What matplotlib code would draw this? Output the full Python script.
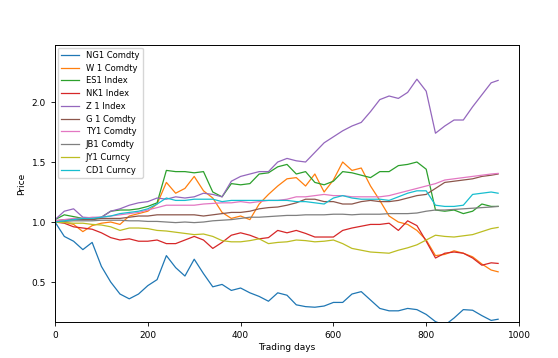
import numpy as np
import matplotlib
matplotlib.use("Agg")
import matplotlib.pyplot as plt

# sample days (every 20 trading days, last one is the final day)
days = list(range(0, 941, 20)) + [955]

ng1 = [1.0, 0.88, 0.84, 0.77, 0.83, 0.63, 0.50, 0.40, 0.36, 0.40,
       0.47, 0.52, 0.72, 0.62, 0.55, 0.69, 0.57, 0.46, 0.48, 0.43,
       0.45, 0.41, 0.38, 0.34, 0.41, 0.39, 0.31, 0.295, 0.29, 0.30,
       0.33, 0.33, 0.40, 0.42, 0.35, 0.28, 0.26, 0.26, 0.28, 0.27,
       0.23, 0.17, 0.14, 0.20, 0.27, 0.265, 0.22, 0.18, 0.19]
w1 = [1.0, 1.0, 0.98, 0.92, 0.97, 0.99, 1.0, 0.98, 1.05, 1.07,
      1.09, 1.15, 1.33, 1.24, 1.28, 1.38, 1.26, 1.20, 1.08, 1.03,
      1.05, 1.02, 1.15, 1.23, 1.30, 1.36, 1.37, 1.30, 1.40, 1.25,
      1.35, 1.50, 1.43, 1.45, 1.30, 1.18, 1.05, 1.00, 0.98, 0.93,
      0.85, 0.72, 0.73, 0.76, 0.74, 0.71, 0.65, 0.60, 0.585]
es1 = [1.02, 1.06, 1.045, 1.03, 1.02, 1.04, 1.09, 1.10, 1.10, 1.11,
       1.13, 1.16, 1.43, 1.42, 1.42, 1.41, 1.42, 1.25, 1.21, 1.32,
       1.31, 1.32, 1.40, 1.41, 1.46, 1.48, 1.40, 1.42, 1.33, 1.31,
       1.34, 1.42, 1.41, 1.39, 1.37, 1.42, 1.42, 1.47, 1.48, 1.50,
       1.44, 1.10, 1.09, 1.10, 1.07, 1.09, 1.15, 1.13, 1.13]
nk1 = [1.0, 0.99, 0.96, 0.95, 0.94, 0.91, 0.87, 0.85, 0.86, 0.84,
       0.84, 0.85, 0.82, 0.82, 0.85, 0.88, 0.85, 0.78, 0.83, 0.89,
       0.91, 0.89, 0.86, 0.87, 0.93, 0.91, 0.93, 0.905, 0.875, 0.875,
       0.875, 0.93, 0.95, 0.965, 0.98, 0.98, 0.99, 0.93, 1.01, 0.97,
       0.84, 0.70, 0.74, 0.75, 0.74, 0.70, 0.64, 0.66, 0.655]
z1 = [1.02, 1.09, 1.11, 1.04, 1.035, 1.04, 1.09, 1.11, 1.14, 1.16,
      1.17, 1.20, 1.19, 1.21, 1.20, 1.21, 1.24, 1.23, 1.21, 1.34,
      1.38, 1.40, 1.42, 1.42, 1.50, 1.53, 1.51, 1.50, 1.58, 1.66,
      1.71, 1.76, 1.80, 1.83, 1.92, 2.02, 2.05, 2.03, 2.08, 2.19,
      2.09, 1.74, 1.80, 1.85, 1.85, 1.96, 2.06, 2.16, 2.18]
g1 = [1.01, 1.02, 1.02, 1.02, 1.02, 1.03, 1.03, 1.03, 1.04, 1.05,
      1.05, 1.06, 1.06, 1.06, 1.06, 1.06, 1.05, 1.06, 1.07, 1.08,
      1.08, 1.09, 1.11, 1.12, 1.125, 1.14, 1.16, 1.19, 1.19, 1.17,
      1.17, 1.15, 1.15, 1.17, 1.18, 1.17, 1.17, 1.18, 1.20, 1.22,
      1.23, 1.28, 1.33, 1.34, 1.35, 1.36, 1.38, 1.39, 1.40]
ty1 = [1.01, 1.02, 1.03, 1.03, 1.04, 1.04, 1.05, 1.06, 1.07, 1.08,
       1.10, 1.12, 1.14, 1.14, 1.14, 1.14, 1.15, 1.155, 1.16, 1.16,
       1.17, 1.16, 1.17, 1.18, 1.18, 1.19, 1.21, 1.21, 1.22, 1.23,
       1.22, 1.22, 1.21, 1.21, 1.21, 1.21, 1.22, 1.24, 1.26, 1.28,
       1.30, 1.32, 1.35, 1.36, 1.37, 1.38, 1.39, 1.40, 1.405]
jb1 = [1.0, 1.005, 1.01, 1.01, 1.01, 1.015, 1.015, 1.015, 1.01, 1.01,
       1.005, 1.005, 1.0, 0.995, 1.0, 0.995, 1.0, 1.01, 1.015, 1.02,
       1.03, 1.04, 1.04, 1.045, 1.05, 1.055, 1.055, 1.06, 1.06, 1.06,
       1.065, 1.065, 1.06, 1.065, 1.065, 1.065, 1.07, 1.07, 1.07, 1.075,
       1.09, 1.10, 1.10, 1.105, 1.11, 1.115, 1.12, 1.125, 1.13]
jy1 = [1.0, 0.995, 0.99, 0.99, 0.98, 0.975, 0.96, 0.93, 0.95, 0.95,
       0.945, 0.93, 0.925, 0.915, 0.905, 0.895, 0.90, 0.88, 0.845, 0.835,
       0.835, 0.845, 0.86, 0.82, 0.83, 0.835, 0.85, 0.845, 0.835, 0.84,
       0.85, 0.82, 0.78, 0.765, 0.75, 0.745, 0.74, 0.765, 0.785, 0.81,
       0.85, 0.89, 0.88, 0.875, 0.885, 0.895, 0.92, 0.945, 0.955]
cd1 = [1.0, 1.01, 1.02, 1.03, 1.03, 1.04, 1.05, 1.07, 1.08, 1.09,
       1.11, 1.15, 1.20, 1.18, 1.18, 1.19, 1.19, 1.19, 1.17, 1.18,
       1.18, 1.18, 1.18, 1.18, 1.18, 1.18, 1.17, 1.17, 1.16, 1.15,
       1.20, 1.22, 1.20, 1.19, 1.19, 1.19, 1.18, 1.21, 1.24, 1.26,
       1.26, 1.14, 1.13, 1.13, 1.14, 1.23, 1.24, 1.25, 1.24]

names = ["NG1 Comdty", "W 1 Comdty", "ES1 Index", "NK1 Index", "Z 1 Index",
         "G 1 Comdty", "TY1 Comdty", "JB1 Comdty", "JY1 Curncy", "CD1 Curncy"]
series = [ng1, w1, es1, nk1, z1, g1, ty1, jb1, jy1, cd1]

fig = plt.figure(figsize=(5.58, 3.58), dpi=100)
ax = fig.add_axes([0.0986, 0.1006, 0.8315, 0.7737])

for name, vals in zip(names, series):
    ax.plot(days, vals, label=name, linewidth=0.9)

ax.set_xlim(0, 1000)
ax.set_ylim(0.167, 2.475)
ax.set_yticks([0.5, 1.0, 1.5, 2.0])
ax.tick_params(labelsize=6.5, width=0.6, length=3)
for s in ax.spines.values():
    s.set_linewidth(0.7)
ax.set_xlabel("Trading days", fontsize=6.5, labelpad=2)
ax.set_ylabel("Price", fontsize=6.5, labelpad=4)
ax.legend(loc="upper left", fontsize=6, handlelength=2.2,
          borderaxespad=0.3, labelspacing=0.45)

fig.savefig("out.png", dpi=100)
